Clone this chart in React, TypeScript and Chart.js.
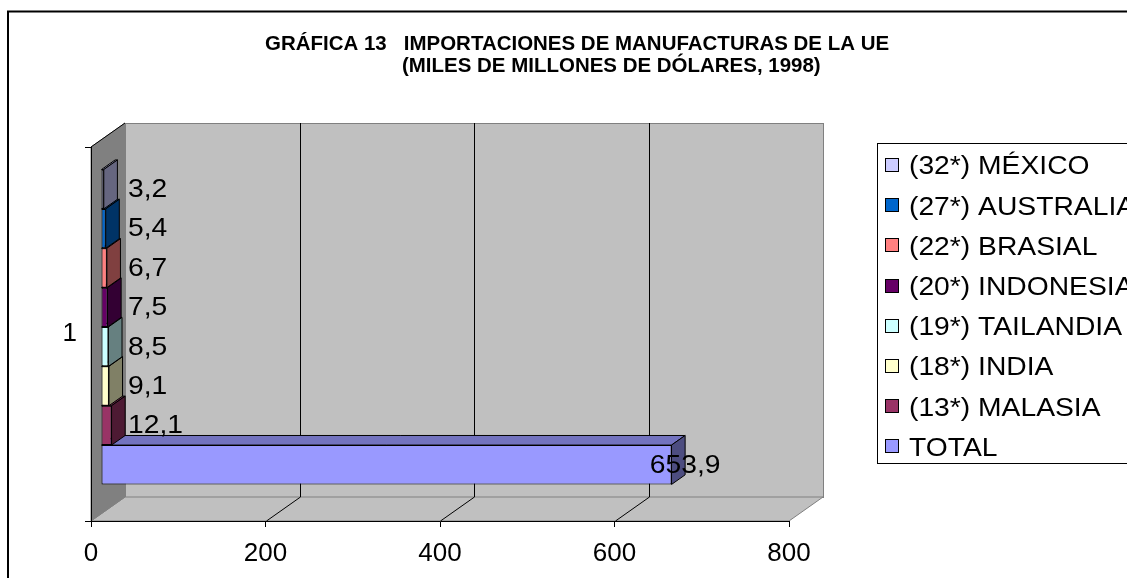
import { useEffect, useRef } from 'react';
import { Chart, registerables } from 'chart.js';

Chart.register(...registerables);

// ---- data ----
const categories = ['1'];
const seriesNames = [
  '(32*) MÉXICO',
  '(27*) AUSTRALIA',
  '(22*) BRASIAL',
  '(20*) INDONESIA',
  '(19*) TAILANDIA',
  '(18*) INDIA',
  '(13*) MALASIA',
  'TOTAL',
];
const seriesValues = [3.2, 5.4, 6.7, 7.5, 8.5, 9.1, 12.1, 653.9];
const seriesColors = ['#CCCCFF', '#0066CC', '#FF8080', '#660066', '#CCFFFF', '#FFFFCC', '#993366', '#9999FF'];
const valueTicks = [0, 200, 400, 600, 800];
const titleLines = [
  'GRÁFICA 13   IMPORTACIONES DE MANUFACTURAS DE LA UE',
  '(MILES DE MILLONES DE DÓLARES, 1998)',
];

// ---- look ----
const W = 1127;
const H = 578;
const FONT = "'Liberation Sans', Arial, Helvetica, sans-serif";
const DEPTH_X = 34; // oblique depth of the plot box
const DEPTH_Y = -24;
const BAR_SHIFT_X = 10; // bars sit part-way into the box depth
const BAR_SHIFT_Y = -7;
const BAR_DX = 13.6; // depth of each bar
const BAR_DY = -9.6;
const TEXT_STRETCH = 1.13;

function shade(hex: string, f: number): string {
  const n = parseInt(hex.slice(1), 16);
  const r = Math.round(((n >> 16) & 255) * f);
  const g = Math.round(((n >> 8) & 255) * f);
  const b = Math.round((n & 255) * f);
  return `rgb(${r},${g},${b})`;
}

function poly(ctx: CanvasRenderingContext2D, pts: number[][], fill: string | null, stroke: string | null, lw = 1) {
  ctx.beginPath();
  pts.forEach(([px, py], i) => (i === 0 ? ctx.moveTo(px, py) : ctx.lineTo(px, py)));
  ctx.closePath();
  if (fill) {
    ctx.fillStyle = fill;
    ctx.fill();
  }
  if (stroke) {
    ctx.strokeStyle = stroke;
    ctx.lineWidth = lw;
    ctx.stroke();
  }
}

function stretchedText(ctx: CanvasRenderingContext2D, text: string, x: number, y: number, sx: number) {
  ctx.save();
  ctx.translate(x, y);
  ctx.scale(sx, 1);
  ctx.fillText(text, 0, 0);
  ctx.restore();
}

const fmt = (v: number) => v.toFixed(1).replace('.', ',');

const boxPlugin = {
  id: 'box3d',
  beforeDraw(chart: any) {
    const { ctx, chartArea: a } = chart;
    const xs = chart.scales.x;
    ctx.save();
    ctx.fillStyle = '#fff';
    ctx.fillRect(0, 0, W, H);

    // outer frame of the chart
    ctx.strokeStyle = '#000';
    ctx.lineWidth = 2;
    ctx.strokeRect(8, 11.5, W + 40, H + 40);

    const bl = a.left + DEPTH_X;
    const bt = a.top + DEPTH_Y;
    const br = a.right + DEPTH_X;
    const bb = a.bottom + DEPTH_Y;

    // back wall
    ctx.fillStyle = '#C0C0C0';
    ctx.fillRect(bl, bt, br - bl, bb - bt);
    ctx.strokeStyle = '#808080';
    ctx.lineWidth = 1;
    ctx.strokeRect(bl + 0.5, bt + 0.5, br - bl, bb - bt);

    // floor
    poly(ctx, [[a.left, a.bottom], [a.right, a.bottom], [br, bb], [bl, bb]], '#C0C0C0', '#808080');

    // side wall
    poly(ctx, [[a.left, a.top], [bl, bt], [bl, bb], [a.left, a.bottom]], '#808080', '#808080');

    // value gridlines on the back wall and across the floor
    ctx.strokeStyle = '#000';
    ctx.lineWidth = 1;
    xs.ticks.forEach((t: any) => {
      if (t.value <= xs.min || t.value >= xs.max) return;
      const px = Math.round(xs.getPixelForValue(t.value)) + 0.5;
      ctx.beginPath();
      ctx.moveTo(px + DEPTH_X, bt);
      ctx.lineTo(px + DEPTH_X, bb);
      ctx.moveTo(px, a.bottom);
      ctx.lineTo(px + DEPTH_X, bb);
      ctx.stroke();
    });

    // top edge of the side wall
    ctx.beginPath();
    ctx.moveTo(a.left, a.top);
    ctx.lineTo(bl, bt);
    ctx.stroke();
    ctx.restore();
  },
  beforeDatasetsDraw(chart: any) {
    chart.ctx.save();
    chart.ctx.translate(BAR_SHIFT_X, BAR_SHIFT_Y);
  },
  afterDatasetDraw(chart: any, args: any) {
    const ctx = chart.ctx;
    const color = chart.data.datasets[args.index].backgroundColor as string;
    args.meta.data.forEach((el: any) => {
      const { x, y, base, height } = el.getProps(['x', 'y', 'base', 'height'], true);
      const left = Math.min(base, x);
      const right = Math.max(base, x);
      const top = y - height / 2;
      const bottom = y + height / 2;
      ctx.save();
      ctx.lineJoin = 'miter';
      poly(ctx, [[left, top], [right, top], [right + BAR_DX, top + BAR_DY], [left + BAR_DX, top + BAR_DY]], shade(color, 0.75), '#000');
      poly(ctx, [[right, top], [right + BAR_DX, top + BAR_DY], [right + BAR_DX, bottom + BAR_DY], [right, bottom]], shade(color, 0.5), '#000');
      ctx.restore();
    });
  },
  afterDatasetsDraw(chart: any) {
    const ctx = chart.ctx;
    ctx.restore();
    const a = chart.chartArea;
    const minLeft = a.left + DEPTH_X + 3;
    ctx.save();
    ctx.font = `25px ${FONT}`;
    ctx.fillStyle = '#000';
    ctx.textAlign = 'left';
    ctx.textBaseline = 'middle';
    chart.data.datasets.forEach((ds: any, i: number) => {
      const meta = chart.getDatasetMeta(i);
      meta.data.forEach((el: any, j: number) => {
        const { x, y } = el.getProps(['x', 'y'], true);
        const text = fmt(ds.data[j]);
        const w = ctx.measureText(text).width * TEXT_STRETCH;
        const endX = x + BAR_SHIFT_X + BAR_DX;
        const left = Math.max(endX - w / 2, minLeft);
        stretchedText(ctx, text, left, y + BAR_SHIFT_Y + 1, TEXT_STRETCH);
      });
    });
    ctx.restore();
  },
  afterDraw(chart: any) {
    const ctx = chart.ctx;
    ctx.save();
    // title
    ctx.fillStyle = '#000';
    ctx.textAlign = 'left';
    ctx.textBaseline = 'alphabetic';
    ctx.font = `bold 19.5px ${FONT}`;
    stretchedText(ctx, titleLines[0], 265, 50, 1.05);
    stretchedText(ctx, titleLines[1], 402, 71.7, 1.05);

    // legend
    const lx = 877.5;
    const ly = 143.5;
    ctx.strokeStyle = '#000';
    ctx.lineWidth = 1;
    ctx.strokeRect(lx, ly, 400, 320);
    ctx.font = `25px ${FONT}`;
    ctx.textBaseline = 'middle';
    chart.data.datasets.forEach((ds: any, i: number) => {
      const cy = 164.5 + i * 40.2;
      const sy = Math.round(cy - 6.5) + 0.5;
      ctx.fillStyle = ds.backgroundColor;
      ctx.fillRect(885.5, sy, 13, 13);
      ctx.strokeStyle = '#000';
      ctx.strokeRect(885.5, sy, 13, 13);
      ctx.fillStyle = '#000';
      stretchedText(ctx, ds.label, 909, cy + 3, TEXT_STRETCH);
    });
    ctx.restore();
  },
};

export default function App() {
  const canvasRef = useRef<HTMLCanvasElement | null>(null);

  useEffect(() => {
    const canvas = canvasRef.current;
    if (!canvas) return;
    const chart = new Chart(canvas, {
      type: 'bar',
      data: {
        labels: categories,
        datasets: seriesNames.map((name, i) => ({
          label: name,
          data: [seriesValues[i]],
          backgroundColor: seriesColors[i],
          borderColor: '#000',
          borderWidth: 1,
          borderSkipped: false,
          categoryPercentage: 0.842,
          barPercentage: 1,
        })),
      },
      options: {
        indexAxis: 'y',
        animation: false,
        responsive: false,
        maintainAspectRatio: false,
        devicePixelRatio: 1,
        events: [],
        layout: { padding: { left: 31, top: 147, right: 338, bottom: 7 } },
        plugins: {
          legend: { display: false },
          title: { display: false },
          tooltip: { enabled: false },
        },
        scales: {
          x: {
            type: 'linear',
            min: valueTicks[0],
            max: valueTicks[valueTicks.length - 1],
            afterFit(s: any) {
              s.height = 50;
            },
            ticks: {
              stepSize: valueTicks[1] - valueTicks[0],
              color: '#000',
              font: { family: FONT, size: 26 },
              padding: 11,
            },
            grid: { drawOnChartArea: false, drawTicks: true, tickLength: 6, color: '#000' },
            border: { display: true, color: '#000' },
          },
          y: {
            type: 'category',
            afterFit(s: any) {
              s.width = 60;
            },
            ticks: { color: '#000', font: { family: FONT, size: 26 }, padding: 8 },
            grid: { drawOnChartArea: false, drawTicks: true, tickLength: 6, color: '#000' },
            border: { display: true, color: '#000' },
          },
        },
      },
      plugins: [boxPlugin],
    } as any);
    return () => chart.destroy();
  }, []);

  return (
    <div style={{ position: 'fixed', left: 0, top: 0, width: W, height: H, overflow: 'hidden', background: '#fff' }}>
      <canvas ref={canvasRef} width={W} height={H} style={{ display: 'block', width: W, height: H }} />
    </div>
  );
}
